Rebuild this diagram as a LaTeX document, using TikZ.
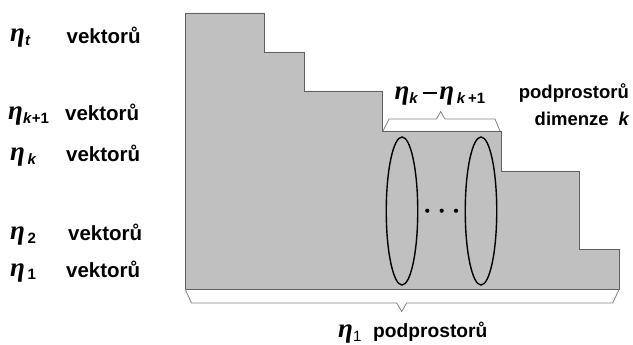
\documentclass[tikz,border=0pt]{standalone}
\usepackage{fontspec}
\usetikzlibrary{shapes.geometric}
\setmainfont{Liberation Sans}
\newfontfamily\grkfont{Liberation Serif}
\definecolor{stairgray}{HTML}{C0C0C0}
\definecolor{edgegray}{HTML}{606060}
\definecolor{bracegray}{HTML}{808080}
\newcommand\myeta{{\grkfont\bfseries\itshape\fontsize{27}{27}\selectfont η}}
\newcommand\etasub[1]{\myeta\raisebox{-4pt}{\fontsize{15}{15}\selectfont\bfseries #1}}
\newcommand\longminus{\rule[6pt]{14pt}{1.9pt}}
\begin{document}
\begin{tikzpicture}[x=1pt,y=-1pt,
  lbl/.style={inner sep=0pt,font=\fontsize{20.5}{20.5}\selectfont\bfseries},
  rlbl/.style={inner sep=0pt,font=\fontsize{18.5}{18.5}\selectfont\bfseries},
  etalbl/.style={inner sep=0pt},
  bracestyle/.style={draw=bracegray,line width=0.8pt},
  ring/.style={draw=black,line width=1.4pt,ellipse,minimum width=31.5pt,minimum height=148pt,inner sep=0pt}]
\useasboundingbox (0,0) rectangle (633,345);
% staircase
\filldraw[fill=stairgray,draw=edgegray,line width=0.9pt]
  (185,13) -- (264,13) -- (264,52) -- (304,52) -- (304,91) -- (382,91)
  -- (382,131) -- (501,131) -- (501,171) -- (579,171) -- (579,249)
  -- (619,249) -- (619,289) -- (185,289) -- cycle;
% top brace
\coordinate (tbL) at (383,131);
\coordinate (tbR) at (500,131);
\draw[bracestyle] (tbL) -- (389,119) -- (436.5,119) -- (440.7,111.5) -- (445,119) -- (495,119) -- (tbR);
% bottom brace
\coordinate (bbL) at (185.5,289);
\coordinate (bbR) at (618.5,289);
\draw[bracestyle] (bbL) -- (186,291) -- (191.5,303) -- (396.7,303) -- (401.7,311.5) -- (406.7,303) -- (612.7,303) -- (618.3,291) -- (bbR);
% ellipses
\node[ring] (e1) at (402,211) {};
\node[ring] (e2) at (481,211) {};
\fill (427.3,210.7) circle (2.1pt);
\fill (441.7,210.7) circle (2.1pt);
\fill (456,210.7) circle (2.1pt);
% left labels
\node[etalbl,anchor=base west] (et) at (10,42) {\etasub{\textit{t}}};
\node[lbl,anchor=base west] (vt) at (66.5,43.3) {vektorů};
\node[etalbl,anchor=base west] (ek1) at (8,119.5) {\etasub{\textit{k}+1}};
\node[lbl,anchor=base west] (vk1) at (65,120.7) {vektorů};
\node[etalbl,anchor=base west] (ek) at (10,160.5) {\etasub{\,\textit{k}}};
\node[lbl,anchor=base west] (vk) at (66,161.7) {vektorů};
\node[etalbl,anchor=base west] (e2l) at (10,239.5) {\etasub{\,2}};
\node[lbl,anchor=base west] (v2) at (68,240.7) {vektorů};
\node[etalbl,anchor=base west] (e1l) at (10,276) {\etasub{\,1}};
\node[lbl,anchor=base west] (v1) at (66,277.3) {vektorů};
% top brace label
\node[etalbl,anchor=base] (diff) at (440,99.5) {\etasub{\textit{k}}\hspace{5pt}\longminus\hspace{2pt}\etasub{\,\textit{k}\,+1}};
% right labels
\node[rlbl,anchor=base east] (pd) at (629,99) {podprostorů};
\node[rlbl,anchor=base east] (dk) at (630,125.5) {dimenze\hspace{10pt}\textit{k}};
% bottom label
\node[etalbl,anchor=base west] (bote) at (338,337.5) {\etasub{\mdseries 1}};
\node[rlbl,font=\fontsize{19.2}{19.2}\selectfont\bfseries,anchor=base west] (bot) at (373,337.5) {podprostorů};
\end{tikzpicture}
\end{document}
